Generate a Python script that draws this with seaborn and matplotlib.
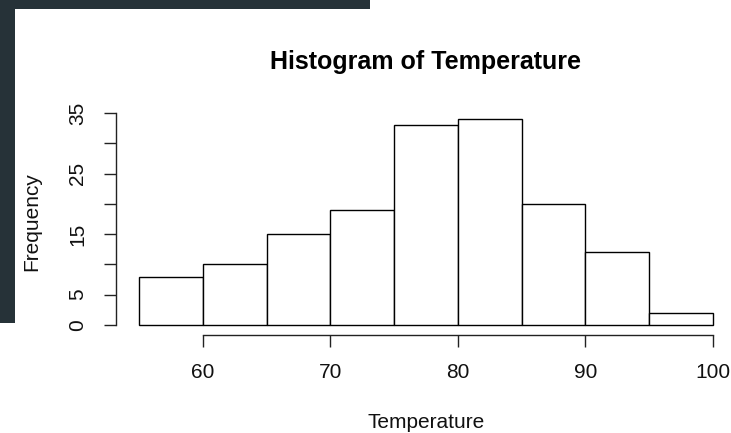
import matplotlib
matplotlib.use("Agg")
import matplotlib.pyplot as plt
import seaborn as sns
from matplotlib.patches import Rectangle

# Data (airquality Temp histogram, bins of width 5)
bin_edges = [55, 60, 65, 70, 75, 80, 85, 90, 95, 100]
counts = [8, 10, 15, 19, 33, 34, 20, 12, 2]
bin_centers = [(a + b) / 2 for a, b in zip(bin_edges[:-1], bin_edges[1:])]
x_ticks = [60, 70, 80, 90, 100]
y_ticks = [0, 5, 10, 15, 20, 25, 30, 35]
y_tick_labels = ["0", "5", "", "15", "", "25", "", "35"]

sns.set_style("white")
plt.rcParams["font.family"] = ["Liberation Sans", "DejaVu Sans"]

W, H = 731, 433
fig = plt.figure(figsize=(W / 100, H / 100), dpi=100)
fig.patch.set_facecolor("white")

# axes placement in pixels
left_px, right_px = 116.0, 735.9
top_px, bot_px = 110.8, 333.2
ax = fig.add_axes([left_px / W, (H - bot_px) / H,
                   (right_px - left_px) / W, (bot_px - top_px) / H])
ax.set_facecolor("white")

sns.histplot(x=bin_centers, weights=counts, bins=bin_edges, ax=ax,
             color="white", edgecolor="black", linewidth=1.0, alpha=1.0)

ax.set_xlim(53.2, 101.8)
ax.set_ylim(-1.36, 35.36)

for s in ["top", "right"]:
    ax.spines[s].set_visible(False)
ax.spines["left"].set_bounds(0, 35)
ax.spines["bottom"].set_bounds(60, 100)
ax.spines["bottom"].set_position(("outward", 1.5))
for s in ["left", "bottom"]:
    ax.spines[s].set_color("#222222")
    ax.spines[s].set_linewidth(1.0)

ax.set_xticks(x_ticks)
ax.set_xticklabels([str(v) for v in x_ticks])
ax.set_yticks(y_ticks)
ax.set_yticklabels(y_tick_labels, rotation=90, va="center")
ax.tick_params(axis="both", direction="out", length=8.6, width=1.0,
               color="#222222", labelsize=15, labelcolor="#111111")
ax.tick_params(axis="x", pad=11, bottom=True)
ax.tick_params(axis="y", pad=12, left=True)

ax.set_xlabel("Temperature", fontsize=15, va="center", color="#111111")
ax.xaxis.set_label_coords(0.5, (bot_px - 423) / (bot_px - top_px))
ax.set_ylabel("Frequency", fontsize=15, va="center", color="#111111")
ax.yaxis.set_label_coords((32 - left_px) / (right_px - left_px), 0.5)
ax.set_title("Histogram of Temperature", fontsize=18, fontweight="bold",
             color="black",
             y=(bot_px - 62) / (bot_px - top_px), va="center", pad=0)

# dark screenshot border
dark = "#263238"
fig.patches.append(Rectangle((0, (H - 9) / H), 370 / W, 9 / H,
                             transform=fig.transFigure, facecolor=dark,
                             edgecolor="none", zorder=0))
fig.patches.append(Rectangle((0, (H - 323) / H), 15 / W, 323 / H,
                             transform=fig.transFigure, facecolor=dark,
                             edgecolor="none", zorder=0))

fig.savefig("out.png", dpi=100)
